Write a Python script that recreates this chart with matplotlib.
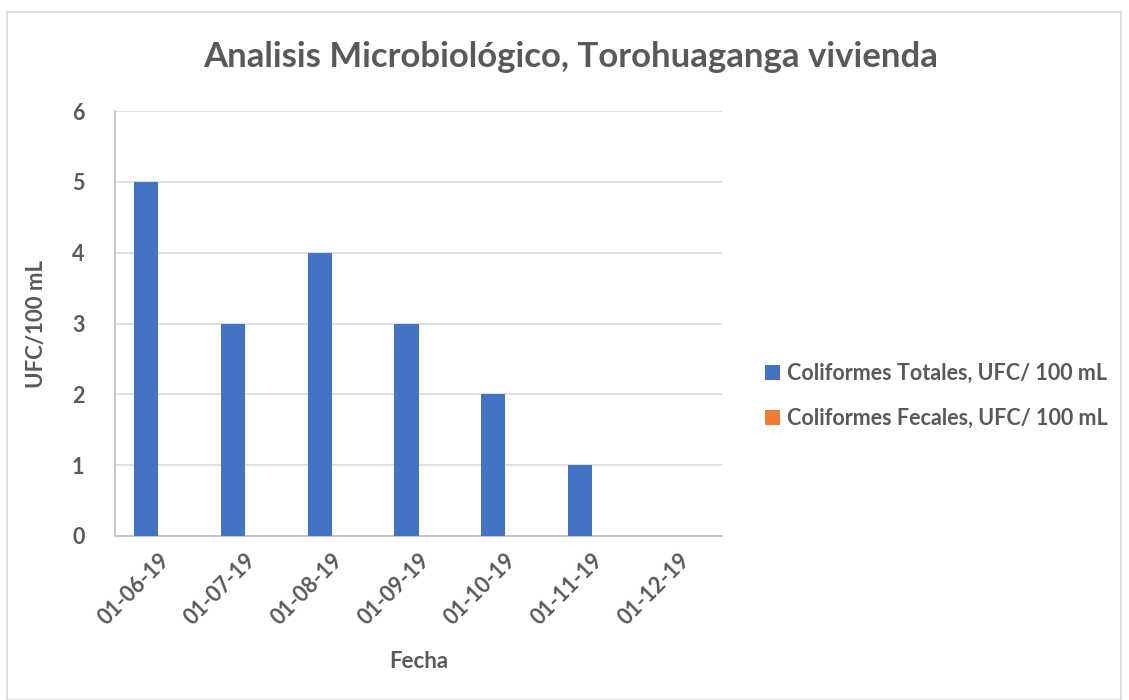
import numpy as np
import matplotlib
matplotlib.use("Agg")
import matplotlib.pyplot as plt
from matplotlib.patches import Rectangle

# datos
fechas = ["01-06-19", "01-07-19", "01-08-19", "01-09-19", "01-10-19", "01-11-19", "01-12-19"]
totales = [5, 3, 4, 3, 2, 1, 0]
fecales = [0, 0, 0, 0, 0, 0, 0]
serie_tot = "Coliformes Totales, UFC/ 100 mL"
serie_fec = "Coliformes Fecales, UFC/ 100 mL"

plt.rcParams['font.family'] = ['Lato', 'DejaVu Sans']
plt.rcParams['font.weight'] = 'bold'
plt.rcParams['axes.labelweight'] = 'bold'
gris = '#595959'
linea = '#D9D9D9'

fig = plt.figure(figsize=(11.29, 7), dpi=100)
fig.patches.append(Rectangle((7/1129, 0), 1114/1129, 1-12/700, transform=fig.transFigure,
                             fill=False, edgecolor=linea, linewidth=1.2))

ax = fig.add_axes([115/1129, 1-536/700, 607/1129, 425/700])
x = np.arange(len(fechas))
w = 0.28
ax.bar(x - w/2, totales, w, color='#4472C4', label=serie_tot, zorder=3)
ax.bar(x + w/2, fecales, w, color='#ED7D31', label=serie_fec, zorder=3)

ax.set_xlim(-0.5, len(fechas) - 0.5)
ax.set_ylim(0, 6)
ax.set_yticks(range(7))
ax.yaxis.grid(True, color=linea, linewidth=1.2, zorder=0)
ax.set_axisbelow(True)
for s in ['top', 'right']:
    ax.spines[s].set_visible(False)
ax.spines['left'].set_color('#BFBFBF')
ax.spines['bottom'].set_color('#BFBFBF')
ax.spines['left'].set_linewidth(1.2)
ax.spines['bottom'].set_linewidth(1.2)
ax.tick_params(length=0, labelsize=15.5, labelcolor=gris)
ax.tick_params(axis='y', pad=22)
ax.set_xticks(x)
ax.set_xticklabels(fechas, rotation=45, ha='right', rotation_mode='anchor')
ax.tick_params(axis='x', pad=10)

ax.set_xlabel("Fecha", fontsize=16, color=gris, labelpad=16)
ax.set_ylabel("UFC/100 mL", fontsize=16, color=gris, labelpad=18)

fig.text(571/1129, 1-57/700, "Analisis Microbiológico, Torohuaganga vivienda",
         fontsize=25, color=gris, ha='center', va='center', weight='bold')

leg = fig.legend(loc='center left', bbox_to_anchor=(746/1129, 1-396/700), frameon=False,
                 fontsize=15.5, handlelength=0.7, handleheight=0.7, handletextpad=0.3,
                 labelspacing=1.1)
for t in leg.get_texts():
    t.set_color(gris)

fig.savefig("out.png", dpi=100)
